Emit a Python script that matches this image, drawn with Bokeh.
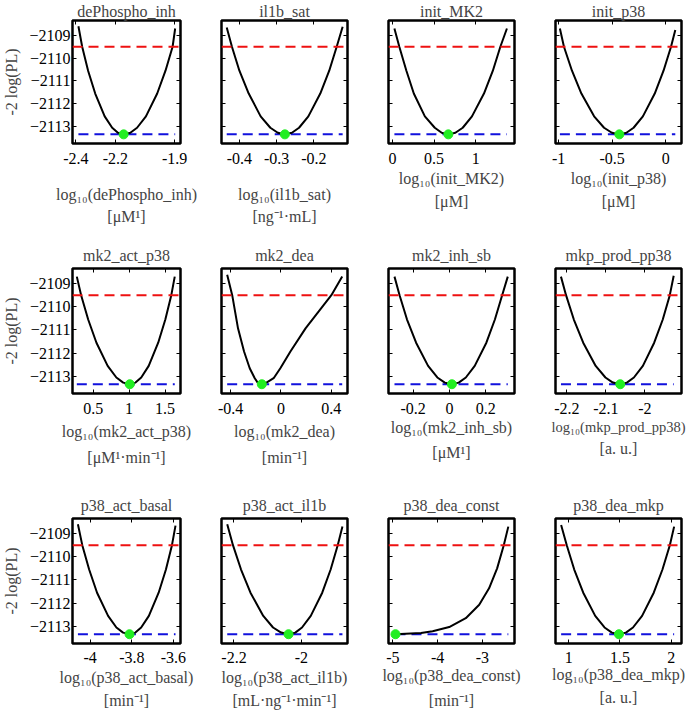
from bokeh.plotting import figure
from bokeh.layouts import column, row
from bokeh.models import Range1d, FixedTicker, LinearAxis, Title, Span
from bokeh.embed import file_html
from bokeh.resources import INLINE

# ---------------- data ----------------
names = ["dePhospho_inh", "il1b_sat", "init_MK2", "init_p38",
         "mk2_act_p38", "mk2_dea", "mk2_inh_sb", "mkp_prod_pp38",
         "p38_act_basal", "p38_act_il1b", "p38_dea_const", "p38_dea_mkp"]
units = ["[μM¹]", "[ng⁻¹·mL]", "[μM]", "[μM]",
         "[μM¹·min⁻¹]", "[min⁻¹]", "[μM¹]", "[a. u.]",
         "[min⁻¹]", "[mL·ng⁻¹·min⁻¹]", "[min⁻¹]", "[a. u.]"]

y_ticks = [-2113, -2112, -2111, -2110, -2109]
y_lo, y_hi = -2113.74, -2108.35
threshold = -2109.50
best_value = -2113.34

x_ranges = [(-2.417, -1.870), (-0.448, -0.110), (-0.047, 1.467), (-1.030, 0.148),
            (0.213, 1.715), (-0.472, 0.528), (-0.336, 0.358), (-2.229, -1.906),
            (-4.085, -3.566), (-2.237, -1.863), (-5.096, -2.282), (0.870, 2.101)]
x_ticks = [[-2.4, -2.2, -1.9], [-0.4, -0.3, -0.2], [0, 0.5, 1], [-1, -0.5, 0],
           [0.5, 1, 1.5], [-0.4, 0, 0.4], [-0.2, 0, 0.2], [-2.2, -2.1, -2],
           [-4, -3.8, -3.6], [-2.2, -2], [-5, -4, -3], [1, 1.5, 2]]
x_tick_labels = [["-2.4", "-2.2", "-1.9"], ["-0.4", "-0.3", "-0.2"], ["0", "0.5", "1"], ["-1", "-0.5", "0"],
                 ["0.5", "1", "1.5"], ["-0.4", "0", "0.4"], ["-0.2", "0", "0.2"], ["-2.2", "-2.1", "-2"],
                 ["-4", "-3.8", "-3.6"], ["-2.2", "-2"], ["-5", "-4", "-3"], ["1", "1.5", "2"]]

best_x = [-2.158, -0.278, 0.672, -0.433, 1.010, -0.152, 0.013, -2.063, -3.811, -2.038, -4.94, 1.490]

pl_x_dePhospho_inh = [-2.387, -2.368, -2.338, -2.302, -2.254, -2.216, -2.187, -2.158, -2.124, -2.090, -2.045, -1.988, -1.946, -1.910, -1.897]
pl_y_dePhospho_inh = [-2108.60, -2109.50, -2110.55, -2111.55, -2112.55, -2113.05, -2113.27, -2113.34, -2113.27, -2113.05, -2112.55, -2111.55, -2110.55, -2109.50, -2108.70]
pl_x_il1b_sat = [-0.434, -0.420, -0.400, -0.375, -0.343, -0.317, -0.297, -0.278, -0.259, -0.240, -0.215, -0.183, -0.159, -0.139, -0.123]
pl_y_il1b_sat = [-2108.66, -2109.50, -2110.55, -2111.55, -2112.55, -2113.05, -2113.27, -2113.34, -2113.27, -2113.05, -2112.55, -2111.55, -2110.55, -2109.50, -2108.62]
pl_x_init_MK2 = [0.024, 0.083, 0.168, 0.257, 0.390, 0.509, 0.592, 0.672, 0.757, 0.845, 0.956, 1.100, 1.207, 1.297, 1.376]
pl_y_init_MK2 = [-2108.70, -2109.50, -2110.55, -2111.55, -2112.55, -2113.05, -2113.27, -2113.34, -2113.27, -2113.05, -2112.55, -2111.55, -2110.55, -2109.50, -2108.70]
pl_x_init_p38 = [-0.989, -0.951, -0.876, -0.788, -0.669, -0.576, -0.503, -0.433, -0.367, -0.300, -0.213, -0.102, -0.020, 0.050, 0.090]
pl_y_init_p38 = [-2108.70, -2109.50, -2110.55, -2111.55, -2112.55, -2113.05, -2113.27, -2113.34, -2113.27, -2113.05, -2112.55, -2111.55, -2110.55, -2109.50, -2108.77]
pl_x_mk2_act_p38 = [0.273, 0.333, 0.431, 0.546, 0.702, 0.823, 0.918, 1.010, 1.089, 1.169, 1.273, 1.405, 1.504, 1.587, 1.635]
pl_y_mk2_act_p38 = [-2108.70, -2109.50, -2110.55, -2111.55, -2112.55, -2113.05, -2113.27, -2113.34, -2113.27, -2113.05, -2112.55, -2111.55, -2110.55, -2109.50, -2108.70]
pl_x_mk2_dea = [-0.427, -0.387, -0.341, -0.293, -0.248, -0.208, -0.185, -0.152, -0.115, -0.058, -0.005, 0.075, 0.195, 0.400, 0.486]
pl_y_mk2_dea = [-2108.62, -2109.50, -2110.93, -2111.93, -2112.65, -2113.08, -2113.27, -2113.34, -2113.27, -2113.08, -2112.65, -2111.93, -2110.93, -2109.50, -2108.70]
pl_x_mk2_inh_sb = [-0.303, -0.275, -0.234, -0.184, -0.118, -0.067, -0.026, 0.013, 0.051, 0.090, 0.139, 0.203, 0.250, 0.290, 0.321]
pl_y_mk2_inh_sb = [-2108.70, -2109.50, -2110.55, -2111.55, -2112.55, -2113.05, -2113.27, -2113.34, -2113.27, -2113.05, -2112.55, -2111.55, -2110.55, -2109.50, -2108.70]
pl_x_mkp_prod_pp38 = [-2.215, -2.202, -2.182, -2.158, -2.126, -2.101, -2.082, -2.063, -2.046, -2.028, -2.005, -1.976, -1.954, -1.936, -1.926]
pl_y_mkp_prod_pp38 = [-2108.70, -2109.50, -2110.55, -2111.55, -2112.55, -2113.05, -2113.27, -2113.34, -2113.27, -2113.05, -2112.55, -2111.55, -2110.55, -2109.50, -2108.66]
pl_x_p38_act_basal = [-4.059, -4.038, -4.005, -3.967, -3.914, -3.874, -3.842, -3.811, -3.783, -3.755, -3.718, -3.671, -3.636, -3.607, -3.590]
pl_y_p38_act_basal = [-2108.60, -2109.50, -2110.55, -2111.55, -2112.55, -2113.05, -2113.27, -2113.34, -2113.27, -2113.05, -2112.55, -2111.55, -2110.55, -2109.50, -2108.66]
pl_x_p38_act_il1b = [-2.220, -2.203, -2.179, -2.151, -2.113, -2.084, -2.060, -2.038, -2.018, -1.998, -1.972, -1.938, -1.913, -1.892, -1.878]
pl_y_p38_act_il1b = [-2108.60, -2109.50, -2110.55, -2111.55, -2112.55, -2113.05, -2113.27, -2113.34, -2113.27, -2113.05, -2112.55, -2111.55, -2110.55, -2109.50, -2108.70]
pl_x_p38_dea_const = [-4.94, -4.37, -4.11, -3.74, -3.37, -3.07, -2.85, -2.67, -2.52, -2.42]
pl_y_p38_dea_const = [-2113.34, -2113.29, -2113.21, -2113.03, -2112.65, -2112.07, -2111.36, -2110.50, -2109.49, -2108.70]
pl_x_p38_dea_mkp = [0.925, 0.980, 1.053, 1.141, 1.258, 1.349, 1.421, 1.490, 1.558, 1.627, 1.716, 1.830, 1.915, 1.987, 2.029]
pl_y_p38_dea_mkp = [-2108.63, -2109.50, -2110.55, -2111.55, -2112.55, -2113.05, -2113.27, -2113.34, -2113.27, -2113.05, -2112.55, -2111.55, -2110.55, -2109.50, -2108.70]

curves_x = [pl_x_dePhospho_inh, pl_x_il1b_sat, pl_x_init_MK2, pl_x_init_p38,
            pl_x_mk2_act_p38, pl_x_mk2_dea, pl_x_mk2_inh_sb, pl_x_mkp_prod_pp38,
            pl_x_p38_act_basal, pl_x_p38_act_il1b, pl_x_p38_dea_const, pl_x_p38_dea_mkp]
curves_y = [pl_y_dePhospho_inh, pl_y_il1b_sat, pl_y_init_MK2, pl_y_init_p38,
            pl_y_mk2_act_p38, pl_y_mk2_dea, pl_y_mk2_inh_sb, pl_y_mkp_prod_pp38,
            pl_y_p38_act_basal, pl_y_p38_act_il1b, pl_y_p38_dea_const, pl_y_p38_dea_mkp]

# ---------------- style ----------------
FONT = "Liberation Serif"
RED = "#ee1111"
BLUE = "#1111dd"
GREEN = "#22ee22"
FRAME_W, FRAME_H = 126, 125
xtick_standoff = [9, 9, 8]
xlabel_standoff = [19, 19, 3, 3, 6, 6, 2, 2, 3, 3, 1, 0]
xlabel_size = ["16px"] * 7 + ["14.5px"] + ["16px"] * 4
unit_standoff = [0, 0, 2, 2, 8, 8, 6, 0, 3, 3, 7, 3]
title_standoff = [1, 9, 9]
border_top = [18, 30, 30]
border_bottom = [95, 95, 71]


def style_axis(ax, labels):
    ax.axis_line_color = None
    ax.major_tick_in = 4
    ax.major_tick_out = 0
    ax.major_tick_line_color = "black"
    ax.major_tick_line_width = 1
    ax.minor_tick_line_color = None
    ax.major_label_text_font = FONT
    if labels:
        ax.major_label_text_color = "black"
        ax.major_label_text_font_size = "16px"
    else:
        ax.major_label_text_color = None
        ax.major_label_text_font_size = "0px"
        ax.major_label_standoff = 0


def make_panel(i):
    col, rw = i % 4, i // 4
    left = 54 if col == 0 else 21
    right = 10 if col == 3 else 20
    top, bottom = border_top[rw], border_bottom[rw]
    p = figure(width=left + FRAME_W + right, height=top + FRAME_H + bottom,
               x_range=Range1d(*x_ranges[i]), y_range=Range1d(y_lo, y_hi),
               output_backend="svg", toolbar_location=None,
               min_border_left=left, min_border_right=right,
               min_border_top=top, min_border_bottom=bottom)
    p.grid.visible = False
    p.outline_line_color = "black"
    p.outline_line_width = 2.5
    p.outline_line_alpha = 1
    p.background_fill_color = "white"
    p.border_fill_color = "white"

    p.title.text = names[i]
    p.title.align = "center"
    p.title.text_font = FONT
    p.title.text_font_size = "16px"
    p.title.text_font_style = "normal"
    p.title.standoff = title_standoff[rw]

    xa = p.xaxis[0]
    xa.ticker = FixedTicker(ticks=x_ticks[i])
    xa.major_label_overrides = {t: s for t, s in zip(x_ticks[i], x_tick_labels[i])}
    style_axis(xa, True)
    xa.major_label_standoff = xtick_standoff[rw]
    xa.axis_label = "log₁₀(" + names[i] + ")"
    xa.axis_label_text_font = FONT
    xa.axis_label_text_font_size = xlabel_size[i]
    xa.axis_label_text_font_style = "normal"
    xa.axis_label_standoff = xlabel_standoff[i]

    ya = p.yaxis[0]
    ya.ticker = FixedTicker(ticks=y_ticks)
    style_axis(ya, col == 0)
    if col == 0:
        ya.major_label_standoff = 2
        ya.axis_label = "-2 log(PL)"
        ya.axis_label_text_font = FONT
        ya.axis_label_text_font_size = "16px"
        ya.axis_label_text_font_style = "normal"
        ya.axis_label_standoff = 6

    ra = LinearAxis(ticker=FixedTicker(ticks=y_ticks))
    style_axis(ra, False)
    p.add_layout(ra, "right")
    ta = LinearAxis(ticker=FixedTicker(ticks=x_ticks[i]))
    style_axis(ta, False)
    p.add_layout(ta, "above")

    p.add_layout(Title(text=units[i], align="center", text_font=FONT,
                       text_font_size="16px", text_font_style="normal",
                       standoff=unit_standoff[i]), "below")

    p.add_layout(Span(location=threshold, dimension="width", line_color=RED,
                      line_width=2, line_dash="10 6"))
    cx, cy = curves_x[i], curves_y[i]
    p.line([cx[0], cx[-1]], [best_value, best_value], line_color=BLUE,
           line_width=2, line_dash="10 6")
    p.line(cx, cy, line_color="black", line_width=2)
    p.scatter([best_x[i]], [best_value], size=9, color=GREEN)
    return p


panels = [make_panel(i) for i in range(12)]
layout = column(row(*panels[0:4]), row(*panels[4:8]), row(*panels[8:12]))

open("out.html", "w").write(file_html(layout, INLINE))
